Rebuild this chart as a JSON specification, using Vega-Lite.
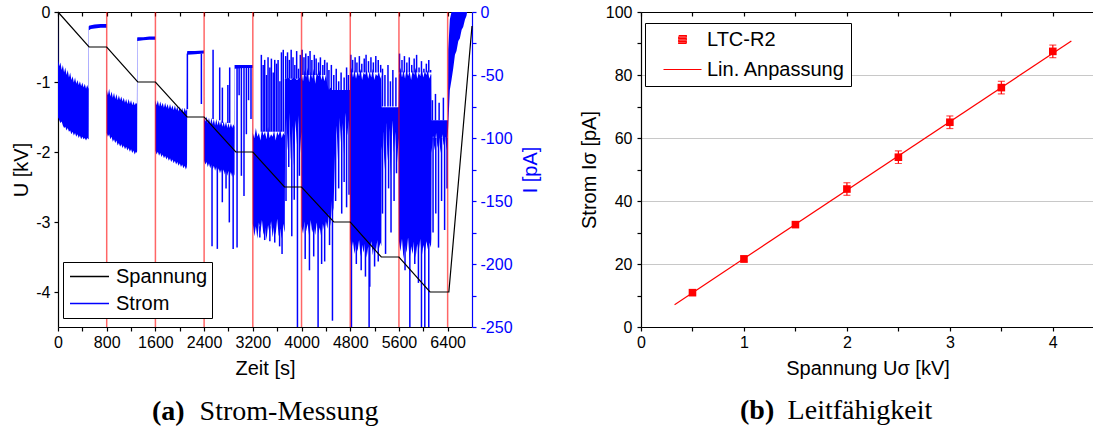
{
"$schema": "https://vega.github.io/schema/vega-lite/v6.json",
"background": "white",
"padding": {"left": 11, "top": 4, "right": 0, "bottom": 0},
"spacing": 38,
"config": {
 "font": "Liberation Sans",
 "view": {"stroke": null},
 "axis": {"labelFont": "Liberation Sans", "labelFontSize": 16, "labelColor": "black", "titleFont": "Liberation Sans", "titleFontSize": 20, "titleFontWeight": "normal", "titleColor": "black", "domainColor": "black", "tickColor": "black", "domainWidth": 1.2, "tickWidth": 1.2, "labelOverlap": false, "labelFlush": false, "grid": false},
 "legend": {"labelFont": "Liberation Sans", "labelFontSize": 20, "labelColor": "black"}
},
"resolve": {"scale": {"color": "independent", "shape": "independent"}, "legend": {"color": "independent", "shape": "independent"}},
"datasets": {
 "volt": [{"t":0,"u":0},{"t":510,"u":-0.5},{"t":800,"u":-0.5},{"t":1310,"u":-1},{"t":1600,"u":-1},{"t":2120,"u":-1.5},{"t":2400,"u":-1.5},{"t":2920,"u":-2},{"t":3200,"u":-2},{"t":3720,"u":-2.5},{"t":4000,"u":-2.5},{"t":4530,"u":-3},{"t":4800,"u":-3},{"t":5310,"u":-3.5},{"t":5600,"u":-3.5},{"t":6110,"u":-4},{"t":6420,"u":-4},{"t":6800,"u":-0.2}],
 "marks": [{"t":800},{"t":1600},{"t":2400},{"t":3200},{"t":4000},{"t":4800},{"t":5600},{"t":6400}],
 "band": [
  {"t":0,"h":0,"l":-84},{"t":6,"h":-38,"l":-84},{"t":20,"h":-43,"l":-86},{"t":40,"h":-40,"l":-88},{"t":60,"h":-46,"l":-87},{"t":80,"h":-42,"l":-90},{"t":100,"h":-48,"l":-92},{"t":120,"h":-44,"l":-91},{"t":140,"h":-50,"l":-94},{"t":160,"h":-46,"l":-92},{"t":180,"h":-52,"l":-95},{"t":200,"h":-48,"l":-94},{"t":220,"h":-54,"l":-97},{"t":240,"h":-51,"l":-95},{"t":260,"h":-56,"l":-98},{"t":280,"h":-52,"l":-96},{"t":300,"h":-57,"l":-99},{"t":320,"h":-54,"l":-97},{"t":340,"h":-58,"l":-100},{"t":360,"h":-55,"l":-98},{"t":380,"h":-59,"l":-101},{"t":400,"h":-56,"l":-99},{"t":420,"h":-60,"l":-101},{"t":440,"h":-57,"l":-100},{"t":460,"h":-61,"l":-102},{"t":480,"h":-58,"l":-100},{"t":500,"h":-61,"l":-101},{"t":504,"h":-12,"l":-101},{"t":508,"h":-11,"l":-14.5},
  {"t":540,"h":-10.5,"l":-13.5},{"t":600,"h":-10,"l":-13},{"t":700,"h":-9.5,"l":-12.5},{"t":796,"h":-9.5,"l":-12.5},
  {"t":800,"h":-62,"l":-96},{"t":820,"h":-66,"l":-99},{"t":840,"h":-61,"l":-97},{"t":860,"h":-67,"l":-101},{"t":880,"h":-63,"l":-99},{"t":900,"h":-68,"l":-103},{"t":920,"h":-64,"l":-101},{"t":940,"h":-69,"l":-104},{"t":960,"h":-65,"l":-102},{"t":980,"h":-70,"l":-106},{"t":1000,"h":-66,"l":-104},{"t":1020,"h":-70,"l":-107},{"t":1040,"h":-67,"l":-105},{"t":1060,"h":-71,"l":-108},{"t":1080,"h":-68,"l":-106},{"t":1100,"h":-72,"l":-109},{"t":1120,"h":-69,"l":-107},{"t":1140,"h":-73,"l":-110},{"t":1160,"h":-69,"l":-108},{"t":1180,"h":-73,"l":-111},{"t":1200,"h":-70,"l":-109},{"t":1220,"h":-74,"l":-112},{"t":1240,"h":-71,"l":-110},{"t":1260,"h":-74,"l":-113},{"t":1280,"h":-72,"l":-111},{"t":1296,"h":-73,"l":-112},{"t":1300,"h":-21,"l":-110},{"t":1304,"h":-20,"l":-23},
  {"t":1400,"h":-20,"l":-22.5},{"t":1500,"h":-19.5,"l":-22},{"t":1596,"h":-19.5,"l":-22},
  {"t":1600,"h":-70,"l":-110},{"t":1620,"h":-74,"l":-113},{"t":1640,"h":-70,"l":-111},{"t":1660,"h":-75,"l":-114},{"t":1680,"h":-71,"l":-112},{"t":1700,"h":-75,"l":-115},{"t":1720,"h":-72,"l":-113},{"t":1740,"h":-76,"l":-116},{"t":1760,"h":-72,"l":-114},{"t":1780,"h":-76,"l":-117},{"t":1800,"h":-73,"l":-115},{"t":1820,"h":-77,"l":-118},{"t":1840,"h":-73,"l":-116},{"t":1860,"h":-77,"l":-119},{"t":1880,"h":-74,"l":-117},{"t":1900,"h":-78,"l":-120},{"t":1920,"h":-74,"l":-118},{"t":1940,"h":-78,"l":-121},{"t":1960,"h":-75,"l":-119},{"t":1980,"h":-79,"l":-122},{"t":2000,"h":-75,"l":-120},{"t":2020,"h":-79,"l":-123},{"t":2040,"h":-76,"l":-121},{"t":2060,"h":-80,"l":-124},{"t":2080,"h":-76,"l":-122},{"t":2100,"h":-79,"l":-125},{"t":2116,"h":-77,"l":-123},{"t":2120,"h":-32,"l":-120},{"t":2124,"h":-31,"l":-34},
  {"t":2250,"h":-31,"l":-33.5},{"t":2396,"h":-30.5,"l":-33},
  {"t":2400,"h":-84,"l":-118},{"t":2420,"h":-87,"l":-121},{"t":2440,"h":-83,"l":-119},{"t":2460,"h":-88,"l":-123},{"t":2480,"h":-84,"l":-120},{"t":2500,"h":-89,"l":-124},{"t":2520,"h":-84,"l":-121},{"t":2540,"h":-89,"l":-125},{"t":2560,"h":-85,"l":-122},{"t":2580,"h":-90,"l":-126},{"t":2600,"h":-85,"l":-123},{"t":2620,"h":-90,"l":-127},{"t":2640,"h":-86,"l":-124},{"t":2660,"h":-90,"l":-128},{"t":2680,"h":-86,"l":-125},{"t":2700,"h":-91,"l":-129},{"t":2720,"h":-87,"l":-125},{"t":2740,"h":-91,"l":-129},{"t":2760,"h":-87,"l":-126},{"t":2780,"h":-92,"l":-130},{"t":2800,"h":-88,"l":-126},{"t":2820,"h":-92,"l":-130},{"t":2840,"h":-88,"l":-127},{"t":2860,"h":-92,"l":-131},{"t":2880,"h":-89,"l":-127},{"t":2896,"h":-91,"l":-130},{"t":2900,"h":-42,"l":-128},{"t":2904,"h":-42,"l":-45},
  {"t":3050,"h":-42,"l":-44.5},{"t":3196,"h":-42,"l":-44.5},
  {"t":3200,"h":-96,"l":-168},{"t":3225,"h":-100,"l":-178},{"t":3250,"h":-92,"l":-170},{"t":3275,"h":-99,"l":-180},{"t":3300,"h":-96,"l":-167},{"t":3325,"h":-102,"l":-175},{"t":3350,"h":-93,"l":-165},{"t":3375,"h":-98,"l":-177},{"t":3400,"h":-95,"l":-171},{"t":3425,"h":-101,"l":-181},{"t":3450,"h":-91,"l":-169},{"t":3475,"h":-100,"l":-176},{"t":3500,"h":-97,"l":-166},{"t":3525,"h":-99,"l":-179},{"t":3550,"h":-94,"l":-170},{"t":3575,"h":-102,"l":-177},{"t":3600,"h":-95,"l":-164},{"t":3625,"h":-98,"l":-178},{"t":3650,"h":-93,"l":-172},{"t":3675,"h":-100,"l":-180},{"t":3700,"h":-96,"l":-168},{"t":3720,"h":-98,"l":-175},{"t":3725,"h":-53,"l":-172},{"t":3730,"h":-53,"l":-100},
  {"t":3750,"h":-53,"l":-84},{"t":3775,"h":-52,"l":-110},{"t":3800,"h":-53,"l":-80},{"t":3825,"h":-54,"l":-118},{"t":3850,"h":-53,"l":-90},{"t":3875,"h":-52,"l":-122},{"t":3900,"h":-53,"l":-86},{"t":3925,"h":-54,"l":-105},{"t":3950,"h":-53,"l":-82},{"t":3975,"h":-52,"l":-112},{"t":3996,"h":-53,"l":-95},
  {"t":4000,"h":-48,"l":-170},{"t":4025,"h":-55,"l":-176},{"t":4050,"h":-46,"l":-166},{"t":4075,"h":-52,"l":-174},{"t":4100,"h":-44,"l":-168},{"t":4125,"h":-56,"l":-178},{"t":4150,"h":-47,"l":-165},{"t":4175,"h":-53,"l":-175},{"t":4200,"h":-45,"l":-170},{"t":4225,"h":-57,"l":-177},{"t":4250,"h":-48,"l":-167},{"t":4275,"h":-51,"l":-176},{"t":4300,"h":-46,"l":-171},{"t":4325,"h":-54,"l":-179},{"t":4350,"h":-49,"l":-168},{"t":4375,"h":-55,"l":-174},{"t":4400,"h":-50,"l":-166},
  {"t":4425,"h":-58,"l":-172},{"t":4450,"h":-62,"l":-160},{"t":4475,"h":-60,"l":-170},{"t":4500,"h":-62,"l":-150},{"t":4525,"h":-62,"l":-158},{"t":4550,"h":-62,"l":-112},{"t":4575,"h":-62,"l":-90},{"t":4600,"h":-62,"l":-118},{"t":4625,"h":-62,"l":-84},{"t":4650,"h":-62,"l":-105},{"t":4675,"h":-62,"l":-88},{"t":4700,"h":-62,"l":-115},{"t":4725,"h":-62,"l":-80},{"t":4750,"h":-62,"l":-98},{"t":4775,"h":-62,"l":-86},{"t":4794,"h":-62,"l":-96},
  {"t":4798,"h":-50,"l":-180},{"t":4820,"h":-44,"l":-188},{"t":4845,"h":-52,"l":-182},{"t":4870,"h":-46,"l":-192},{"t":4895,"h":-53,"l":-184},{"t":4920,"h":-47,"l":-190},{"t":4945,"h":-51,"l":-181},{"t":4970,"h":-45,"l":-194},{"t":4995,"h":-54,"l":-185},{"t":5020,"h":-48,"l":-191},{"t":5045,"h":-50,"l":-183},{"t":5070,"h":-46,"l":-195},{"t":5095,"h":-53,"l":-186},{"t":5120,"h":-47,"l":-189},{"t":5145,"h":-52,"l":-182},{"t":5170,"h":-45,"l":-193},{"t":5195,"h":-54,"l":-184},{"t":5220,"h":-49,"l":-190},{"t":5245,"h":-51,"l":-181},{"t":5270,"h":-47,"l":-188},{"t":5295,"h":-53,"l":-183},{"t":5311,"h":-50,"l":-186},
  {"t":5316,"h":-75.5,"l":-110},{"t":5340,"h":-75.5,"l":-95},{"t":5365,"h":-75.5,"l":-125},{"t":5390,"h":-75.5,"l":-88},{"t":5415,"h":-75.5,"l":-118},{"t":5440,"h":-75.5,"l":-92},{"t":5465,"h":-75.5,"l":-130},{"t":5490,"h":-75.5,"l":-86},{"t":5515,"h":-75.5,"l":-112},{"t":5540,"h":-75.5,"l":-95},{"t":5565,"h":-75.5,"l":-122},{"t":5594,"h":-75.5,"l":-100},
  {"t":5600,"h":-50,"l":-182},{"t":5625,"h":-44,"l":-190},{"t":5650,"h":-52,"l":-180},{"t":5675,"h":-46,"l":-196},{"t":5700,"h":-53,"l":-185},{"t":5725,"h":-45,"l":-191},{"t":5750,"h":-51,"l":-179},{"t":5775,"h":-47,"l":-197},{"t":5800,"h":-54,"l":-186},{"t":5825,"h":-46,"l":-192},{"t":5850,"h":-50,"l":-181},{"t":5875,"h":-44,"l":-195},{"t":5900,"h":-53,"l":-184},{"t":5925,"h":-48,"l":-190},{"t":5950,"h":-51,"l":-180},{"t":5975,"h":-45,"l":-194},{"t":6000,"h":-52,"l":-185},{"t":6025,"h":-47,"l":-191},{"t":6050,"h":-50,"l":-182},{"t":6075,"h":-46,"l":-188},{"t":6100,"h":-53,"l":-183},{"t":6125,"h":-49,"l":-187},{"t":6132,"h":-50,"l":-180},
  {"t":6136,"h":-86,"l":-112},{"t":6160,"h":-86,"l":-98},{"t":6185,"h":-86,"l":-110},{"t":6210,"h":-86,"l":-96},{"t":6235,"h":-86,"l":-108},{"t":6260,"h":-86,"l":-100},{"t":6285,"h":-86,"l":-112},{"t":6310,"h":-86,"l":-97},{"t":6335,"h":-86,"l":-106},{"t":6360,"h":-86,"l":-99},{"t":6385,"h":-86,"l":-110},{"t":6405,"h":-86,"l":-95},
  {"t":6410,"h":-30,"l":-90},{"t":6436,"h":-6,"l":-62},{"t":6463,"h":0,"l":-54},{"t":6491,"h":0,"l":-45},{"t":6520,"h":0,"l":-34},{"t":6545,"h":0,"l":-31},{"t":6575,"h":0,"l":-23},{"t":6600,"h":0,"l":-21},{"t":6630,"h":0,"l":-14},{"t":6655,"h":0,"l":-12},{"t":6685,"h":0,"l":-6},{"t":6710,"h":0,"l":-3},{"t":6720,"h":0,"l":0}
 ],
 "spikes": [
  {"t":2125,"a":-33,"b":-77},{"t":2355,"a":-33,"b":-73},
  {"t":2547,"a":-85,"b":-30},{"t":2656,"a":-86,"b":-44},{"t":2700,"a":-88,"b":-60},{"t":2790,"a":-88,"b":-58},{"t":2820,"a":-88,"b":-44},
  {"t":2530,"a":-120,"b":-186},{"t":2617,"a":-122,"b":-188},{"t":2699,"a":-125,"b":-151},{"t":2760,"a":-125,"b":-140},{"t":2814,"a":-126,"b":-167},{"t":2877,"a":-127,"b":-188},
  {"t":2941,"a":-44,"b":-187},{"t":2975,"a":-44,"b":-66},{"t":3012,"a":-44,"b":-130},{"t":3055,"a":-44,"b":-146},{"t":3094,"a":-44,"b":-97},{"t":3130,"a":-44,"b":-70},{"t":3170,"a":-44,"b":-85},
  {"t":3340,"a":-95,"b":-34},{"t":3370,"a":-95,"b":-42},{"t":3395,"a":-95,"b":-38},{"t":3425,"a":-95,"b":-50},{"t":3450,"a":-95,"b":-36},{"t":3480,"a":-95,"b":-44},{"t":3505,"a":-95,"b":-37},{"t":3535,"a":-95,"b":-48},{"t":3560,"a":-95,"b":-38},{"t":3590,"a":-95,"b":-41},{"t":3615,"a":-95,"b":-38},{"t":3645,"a":-95,"b":-55},{"t":3670,"a":-95,"b":-32},{"t":3700,"a":-95,"b":-30},
  {"t":3315,"a":-170,"b":-179},{"t":3395,"a":-170,"b":-181},{"t":3480,"a":-170,"b":-182},{"t":3560,"a":-170,"b":-183},{"t":3640,"a":-170,"b":-186},{"t":3680,"a":-170,"b":-192},
  {"t":3740,"a":-53,"b":-35},{"t":3770,"a":-53,"b":-32},{"t":3800,"a":-53,"b":-38},{"t":3830,"a":-53,"b":-30},{"t":3860,"a":-53,"b":-36},{"t":3890,"a":-53,"b":-42},{"t":3920,"a":-53,"b":-31},{"t":3950,"a":-53,"b":-45},{"t":3980,"a":-53,"b":-34},
  {"t":3745,"a":-80,"b":-150},{"t":3790,"a":-80,"b":-123},{"t":3840,"a":-80,"b":-178},{"t":3880,"a":-80,"b":-149},{"t":3933,"a":-80,"b":-250},{"t":3965,"a":-80,"b":-130},
  {"t":4010,"a":-50,"b":-30},{"t":4040,"a":-50,"b":-36},{"t":4070,"a":-50,"b":-33},{"t":4110,"a":-50,"b":-35},{"t":4140,"a":-50,"b":-31},{"t":4170,"a":-50,"b":-38},{"t":4210,"a":-50,"b":-34},{"t":4240,"a":-50,"b":-37},{"t":4280,"a":-50,"b":-40},{"t":4310,"a":-50,"b":-36},{"t":4350,"a":-50,"b":-42},{"t":4380,"a":-50,"b":-38},
  {"t":4060,"a":-165,"b":-196},{"t":4130,"a":-165,"b":-205},{"t":4200,"a":-165,"b":-194},{"t":4272,"a":-165,"b":-250},{"t":4330,"a":-165,"b":-200},{"t":4380,"a":-165,"b":-198},
  {"t":4420,"a":-62,"b":-40},{"t":4450,"a":-62,"b":-46},{"t":4490,"a":-62,"b":-42},{"t":4530,"a":-62,"b":-50},{"t":4570,"a":-62,"b":-45},{"t":4610,"a":-62,"b":-55},{"t":4650,"a":-62,"b":-48},{"t":4700,"a":-62,"b":-52},{"t":4740,"a":-62,"b":-44},{"t":4770,"a":-62,"b":-50},
  {"t":4460,"a":-160,"b":-185},{"t":4508,"a":-150,"b":-245},{"t":4560,"a":-80,"b":-150},{"t":4610,"a":-80,"b":-140},{"t":4660,"a":-80,"b":-160},{"t":4700,"a":-80,"b":-135},{"t":4740,"a":-80,"b":-155},{"t":4780,"a":-80,"b":-145},
  {"t":4810,"a":-48,"b":-34},{"t":4840,"a":-48,"b":-38},{"t":4880,"a":-48,"b":-36},{"t":4910,"a":-48,"b":-40},{"t":4950,"a":-48,"b":-35},{"t":4990,"a":-48,"b":-41},{"t":5030,"a":-48,"b":-37},{"t":5060,"a":-48,"b":-34},{"t":5100,"a":-48,"b":-39},{"t":5140,"a":-48,"b":-36},{"t":5180,"a":-48,"b":-40},{"t":5220,"a":-48,"b":-35},{"t":5260,"a":-48,"b":-38},{"t":5300,"a":-48,"b":-42},
  {"t":4820,"a":-180,"b":-250},{"t":4900,"a":-180,"b":-200},{"t":4980,"a":-180,"b":-205},{"t":5050,"a":-180,"b":-210},{"t":5110,"a":-180,"b":-250},{"t":5121,"a":-180,"b":-218},{"t":5200,"a":-180,"b":-202},{"t":5260,"a":-180,"b":-198},
  {"t":5330,"a":-75,"b":-45},{"t":5370,"a":-75,"b":-50},{"t":5420,"a":-75,"b":-42},{"t":5460,"a":-75,"b":-55},{"t":5500,"a":-75,"b":-46},{"t":5550,"a":-75,"b":-52},
  {"t":5330,"a":-90,"b":-160},{"t":5380,"a":-90,"b":-192},{"t":5430,"a":-90,"b":-140},{"t":5470,"a":-90,"b":-175},{"t":5520,"a":-90,"b":-150},{"t":5560,"a":-90,"b":-128},
  {"t":5610,"a":-48,"b":-33},{"t":5650,"a":-48,"b":-38},{"t":5690,"a":-48,"b":-35},{"t":5730,"a":-48,"b":-40},{"t":5770,"a":-48,"b":-36},{"t":5810,"a":-48,"b":-42},{"t":5850,"a":-48,"b":-37},{"t":5890,"a":-48,"b":-34},{"t":5930,"a":-48,"b":-44},{"t":5970,"a":-48,"b":-39},{"t":6010,"a":-48,"b":-45},{"t":6050,"a":-48,"b":-41},{"t":6090,"a":-48,"b":-38},{"t":6120,"a":-48,"b":-46},
  {"t":5700,"a":-180,"b":-205},{"t":5779,"a":-180,"b":-250},{"t":5860,"a":-180,"b":-200},{"t":5920,"a":-180,"b":-215},{"t":5970,"a":-180,"b":-250},{"t":6025,"a":-180,"b":-250},{"t":6090,"a":-180,"b":-250},
  {"t":6150,"a":-86,"b":-70},{"t":6200,"a":-86,"b":-65},{"t":6260,"a":-86,"b":-72},{"t":6330,"a":-86,"b":-68},
  {"t":6160,"a":-100,"b":-175},{"t":6205,"a":-100,"b":-160},{"t":6250,"a":-100,"b":-187},{"t":6300,"a":-100,"b":-150},{"t":6350,"a":-100,"b":-173},{"t":6390,"a":-100,"b":-140}
 ],
 "pts": [
  {"u":0.5,"i":10.9,"lo":10.1,"hi":11.7,"s":"LTC-R2"},
  {"u":1,"i":21.6,"lo":20.6,"hi":22.6,"s":"LTC-R2"},
  {"u":1.5,"i":32.5,"lo":31.7,"hi":33.3,"s":"LTC-R2"},
  {"u":2,"i":43.8,"lo":41.8,"hi":45.8,"s":"LTC-R2"},
  {"u":2.5,"i":53.9,"lo":51.9,"hi":55.9,"s":"LTC-R2"},
  {"u":3,"i":65,"lo":63,"hi":67,"s":"LTC-R2"},
  {"u":3.5,"i":76,"lo":74,"hi":78,"s":"LTC-R2"},
  {"u":4,"i":87.5,"lo":85.5,"hi":89.5,"s":"LTC-R2"}
 ],
 "fit": [{"u":0.326,"i":7.1},{"u":4.18,"i":90.8}]
},
"hconcat": [
 {
  "width": 414, "height": 315,
  "title": {"text": "(a)", "subtitle": "\u2800\u2800\u2009Strom-Messung", "orient": "bottom", "anchor": "start", "frame": "group", "dx": 94, "offset": 20, "font": "Liberation Serif", "fontSize": 28, "fontWeight": "bold", "color": "black", "subtitleFont": "Liberation Serif", "subtitleFontSize": 28, "subtitleFontWeight": "normal", "subtitleColor": "black", "subtitlePadding": -28},
  "resolve": {"scale": {"y": "independent"}, "axis": {"x": "independent"}},
  "layer": [
   {
    "layer": [
     {"data": {"name": "band"}, "mark": {"type": "area", "color": "#0000ff", "opacity": 1},
      "encoding": {
       "x": {"field": "t", "type": "quantitative", "scale": {"domain": [0, 6800], "nice": false},
             "axis": {"orient": "bottom", "title": "Zeit [s]", "values": [0,400,800,1200,1600,2000,2400,2800,3200,3600,4000,4400,4800,5200,5600,6000,6400], "labelExpr": "datum.value % 800 === 0 ? toString(datum.value) : ''", "tickSize": 4, "labelPadding": 3, "titlePadding": 8}},
       "y": {"field": "l", "type": "quantitative", "scale": {"domain": [-250, 0], "nice": false},
             "axis": {"orient": "right", "title": "I [pA]", "titleAngle": 270, "titleBaseline": "top", "values": [0,-25,-50,-75,-100,-125,-150,-175,-200,-225,-250], "labelExpr": "datum.value % 50 === 0 ? toString(datum.value) : ''", "tickSize": 4, "labelPadding": 4, "titlePadding": 8, "titleColor": "#0000ff", "labelColor": "#0000ff", "domainColor": "#0000ff", "tickColor": "#0000ff"}},
       "y2": {"field": "h"}
      }},
     {"data": {"name": "spikes"}, "mark": {"type": "rule", "strokeWidth": 1.5},
      "encoding": {
       "x": {"field": "t", "type": "quantitative",
             "axis": {"orient": "bottom", "title": "Zeit [s]", "values": [0,400,800,1200,1600,2000,2400,2800,3200,3600,4000,4400,4800,5200,5600,6000,6400], "labelExpr": "datum.value % 800 === 0 ? toString(datum.value) : ''", "tickSize": 4, "labelPadding": 3, "titlePadding": 8}},
       "y": {"field": "a", "type": "quantitative",
             "axis": {"orient": "right", "title": "I [pA]", "titleAngle": 270, "titleBaseline": "top", "values": [0,-25,-50,-75,-100,-125,-150,-175,-200,-225,-250], "labelExpr": "datum.value % 50 === 0 ? toString(datum.value) : ''", "tickSize": 4, "labelPadding": 4, "titlePadding": 8, "titleColor": "#0000ff", "labelColor": "#0000ff", "domainColor": "#0000ff", "tickColor": "#0000ff"}},
       "y2": {"field": "b"},
       "color": {"datum": "Strom", "type": "nominal"}
      }}
    ]
   },
   {"data": {"name": "marks"}, "mark": {"type": "rule", "color": "#ff0000", "opacity": 0.6, "strokeWidth": 1.5},
    "encoding": {"x": {"field": "t", "type": "quantitative", "axis": {"orient": "top", "title": null, "labels": false, "ticks": false, "domain": true}}}},
   {"data": {"name": "volt"}, "mark": {"type": "line", "strokeWidth": 1.2},
    "encoding": {
     "x": {"field": "t", "type": "quantitative", "axis": {"orient": "top", "offset": -4, "domain": false, "title": null, "labels": false, "values": [0,400,800,1200,1600,2000,2400,2800,3200,3600,4000,4400,4800,5200,5600,6000,6400], "tickSize": 4}},
     "y": {"field": "u", "type": "quantitative", "scale": {"domain": [-4.5, 0], "nice": false},
           "axis": {"orient": "left", "title": "U [kV]", "values": [0,-1,-2,-3,-4], "labelExpr": "toString(datum.value)", "tickSize": 4, "labelPadding": 4, "titlePadding": 4}},
     "color": {"datum": "Spannung", "type": "nominal", "scale": {"domain": ["Spannung", "Strom"], "range": ["#000000", "#0000ff"]},
       "legend": {"title": null, "orient": "none", "legendX": 5, "legendY": 250, "symbolType": "M-2,0H2", "symbolSize": 380, "symbolStrokeWidth": 1.5, "symbolOffset": 12, "labelOffset": 16, "labelFontSize": 20, "strokeColor": "black", "fillColor": "white", "padding": 4, "rowPadding": 6}}
    }}
  ]
 },
 {
  "width": 453, "height": 315,
  "title": {"text": "(b)", "subtitle": "\u2800\u2800\u2009Leitf\u00e4higkeit", "orient": "bottom", "anchor": "start", "frame": "group", "dx": 99, "offset": 19, "font": "Liberation Serif", "fontSize": 28, "fontWeight": "bold", "color": "black", "subtitleFont": "Liberation Serif", "subtitleFontSize": 28, "subtitleFontWeight": "normal", "subtitleColor": "black", "subtitlePadding": -28},
  "resolve": {"axis": {"x": "independent"}},
  "layer": [
   {"data": {"name": "fit"}, "mark": {"type": "line", "color": "#ff0000", "strokeWidth": 1.2},
    "encoding": {
     "x": {"field": "u", "type": "quantitative", "scale": {"domain": [0, 4.4], "nice": false},
           "axis": {"orient": "bottom", "title": "Spannung U\u03c3 [kV]", "values": [0,0.5,1,1.5,2,2.5,3,3.5,4], "labelExpr": "datum.value % 1 === 0 ? toString(datum.value) : ''", "tickSize": 4, "labelPadding": 3, "titlePadding": 8}},
     "y": {"field": "i", "type": "quantitative", "scale": {"domain": [0, 100], "nice": false},
           "axis": {"orient": "left", "title": "Strom I\u03c3 [pA]", "values": [0,10,20,30,40,50,60,70,80,90,100], "labelExpr": "datum.value % 20 === 0 ? toString(datum.value) : ''", "tickSize": 4, "labelPadding": 5, "titlePadding": 6, "grid": true, "gridColor": "#c8c8c8", "gridWidth": 1, "gridOpacity": {"condition": {"test": "datum.value % 20 === 0 && datum.value > 0 && datum.value < 100", "value": 1}, "value": 0}}}
    }},
   {"data": {"name": "pts"}, "mark": {"type": "errorbar", "color": "#ff0000", "thickness": 1.2, "ticks": {"size": 7, "thickness": 1.2, "color": "#ff0000"}},
    "encoding": {
     "x": {"field": "u", "type": "quantitative", "axis": null},
     "y": {"field": "lo", "type": "quantitative",
           "axis": {"orient": "left", "title": "Strom I\u03c3 [pA]", "values": [0,10,20,30,40,50,60,70,80,90,100], "labelExpr": "datum.value % 20 === 0 ? toString(datum.value) : ''", "tickSize": 4, "labelPadding": 5, "titlePadding": 6, "grid": true, "gridColor": "#c8c8c8", "gridWidth": 1, "gridOpacity": {"condition": {"test": "datum.value % 20 === 0 && datum.value > 0 && datum.value < 100", "value": 1}, "value": 0}}},
     "y2": {"field": "hi"}
    }},
   {"data": {"name": "pts"}, "mark": {"type": "point", "filled": true, "color": "#ff0000", "opacity": 1, "size": 361, "shape": "M-0.4,-0.4H0.4V0.4H-0.4Z"},
    "encoding": {
     "x": {"field": "u", "type": "quantitative", "axis": {"orient": "top", "offset": -4, "domain": false, "title": null, "labels": false, "values": [0,0.5,1,1.5,2,2.5,3,3.5,4], "tickSize": 4}},
     "y": {"field": "i", "type": "quantitative",
           "axis": {"orient": "left", "title": "Strom I\u03c3 [pA]", "values": [0,10,20,30,40,50,60,70,80,90,100], "labelExpr": "datum.value % 20 === 0 ? toString(datum.value) : ''", "tickSize": 4, "labelPadding": 5, "titlePadding": 6, "grid": true, "gridColor": "#c8c8c8", "gridWidth": 1, "gridOpacity": {"condition": {"test": "datum.value % 20 === 0 && datum.value > 0 && datum.value < 100", "value": 1}, "value": 0}}}
    }},
   {"data": {"name": "pts"}, "mark": {"type": "point", "filled": false, "color": "#ff0000", "opacity": 0, "size": 361, "strokeWidth": 1.2},
    "encoding": {
     "x": {"field": "u", "type": "quantitative", "axis": {"orient": "top", "title": null, "labels": false, "ticks": false, "domain": true}},
     "y": {"field": "i", "type": "quantitative",
           "axis": {"orient": "left", "title": "Strom I\u03c3 [pA]", "values": [0,10,20,30,40,50,60,70,80,90,100], "labelExpr": "datum.value % 20 === 0 ? toString(datum.value) : ''", "tickSize": 4, "labelPadding": 5, "titlePadding": 6, "grid": true, "gridColor": "#c8c8c8", "gridWidth": 1, "gridOpacity": {"condition": {"test": "datum.value % 20 === 0 && datum.value > 0 && datum.value < 100", "value": 1}, "value": 0}}},
     "shape": {"field": "s", "type": "nominal", "scale": {"domain": ["LTC-R2", "Lin. Anpassung"], "range": ["M-0.4,-0.4H0.4V-0.25H-0.4V-0.1H0.4V0.05H-0.4V0.2H0.4V0.35H-0.4V0.4H0.4", "M-2,0H2"]},
       "legend": {"title": null, "orient": "none", "legendX": 4, "legendY": 11, "symbolSize": 361, "symbolOpacity": 1, "symbolStrokeWidth": 1.2, "symbolOffset": 21, "labelOffset": 14, "labelFontSize": 20, "strokeColor": "black", "fillColor": "white", "padding": 6, "rowPadding": 9}}
    }}
  ]
 }
]
}
